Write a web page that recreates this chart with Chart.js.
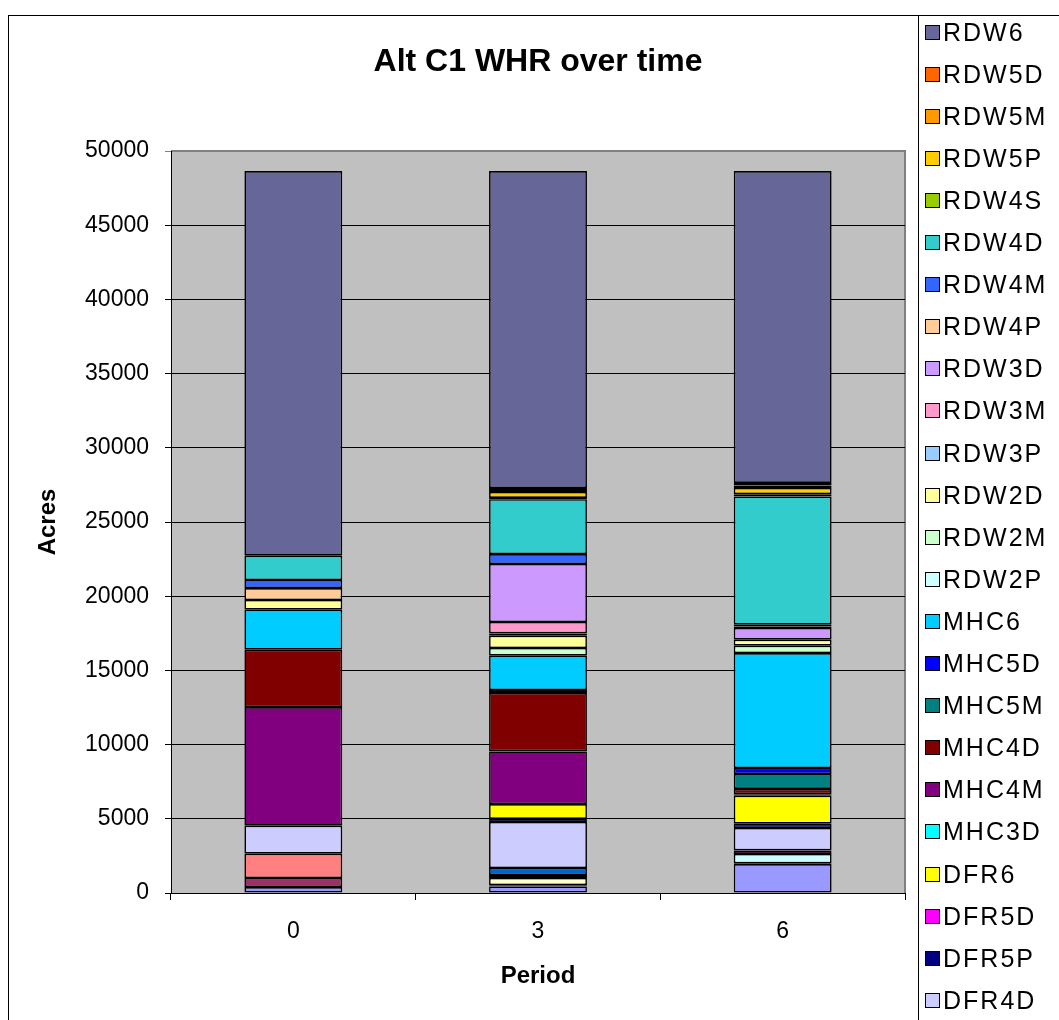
<!DOCTYPE html>
<html>
<head>
<meta charset="utf-8">
<script src="https://cdn.jsdelivr.net/npm/chart.js@4.4.1/dist/chart.umd.min.js"></script>
<style>
  html, body { margin: 0; padding: 0; background: #fff; }
  #wrap { position: relative; width: 1059px; height: 1020px; overflow: hidden; }
  #frame { position: absolute; left: 8px; top: 15px; width: 1200px; height: 1200px;
           border-left: 1px solid #000; border-top: 1px solid #000; }
  #legend { position: absolute; left: 918px; top: 15px; width: 200px; height: 1200px;
            border-left: 1px solid #000; font-family: 'Liberation Sans', Arial, sans-serif; }
  .item { position: absolute; left: 6px; height: 30px; display: flex; align-items: center;
          font-size: 25px; letter-spacing: 2px; color: #000; white-space: nowrap; }
  .box { width: 13px; height: 13px; border: 1px solid #000; margin-right: 3px; }
  canvas { position: absolute; left: 0; top: 0; }
</style>
</head>
<body>
<div id="wrap">
  <div id="frame"></div>
  <canvas id="myChart" width="1059" height="1020"></canvas>
  <div id="legend"></div>
</div>
<script>
const title = "Alt C1 WHR over time"
const periods = ["0", "3", "6"]

// series listed from the bottom of the stack to the top
const seriesNames = [
    "DFR2P", "DFR2M", "DFR2D", "DFR3M", "DFR3D", "DFR4P", "DFR4M", "DFR4D",
    "DFR5P", "DFR5D", "DFR6", "MHC3D", "MHC4M", "MHC4D", "MHC5M", "MHC5D",
    "MHC6", "RDW2P", "RDW2M", "RDW2D", "RDW3P", "RDW3M", "RDW3D", "RDW4P",
    "RDW4M", "RDW4D", "RDW4S", "RDW5P", "RDW5M", "RDW5D", "RDW6"
]
const seriesColors = [
    "#9999FF", "#993366", "#FFFFCC", "#CCFFFF", "#660066", "#FF8080", "#0066CC", "#CCCCFF",
    "#000080", "#FF00FF", "#FFFF00", "#00FFFF", "#800080", "#800000", "#008080", "#0000FF",
    "#00CCFF", "#CCFFFF", "#CCFFCC", "#FFFF99", "#99CCFF", "#FF99CC", "#CC99FF", "#FFCC99",
    "#3366FF", "#33CCCC", "#99CC00", "#FFCC00", "#FF9900", "#FF6600", "#666699"
]

// acres per series, same order as seriesNames
const period0 = [400, 610, 0, 0, 0, 1640, 0, 1885, 0, 0, 0, 0, 7995, 3865, 0, 0,
                 2695, 0, 0, 655, 0, 0, 0, 805, 540, 1640, 0, 0, 0, 0, 25920]
const period3 = [445, 80, 485, 0, 200, 0, 475, 3100, 220, 0, 990, 0, 3545, 3940, 0, 200,
                 2310, 0, 520, 830, 150, 770, 3910, 0, 670, 3700, 80, 400, 130, 140, 21360]
const period6 = [1950, 50, 0, 630, 240, 0, 0, 1510, 290, 0, 1890, 0, 100, 350, 1010, 400,
                 7750, 0, 495, 405, 0, 0, 790, 100, 120, 8645, 150, 415, 170, 170, 21020]

const font = "'Liberation Sans', Arial, sans-serif"

let datasets = []
for (let i = 0; i < seriesNames.length; i++) {
    datasets.push({
        label: seriesNames[i],
        data: [period0[i], period3[i], period6[i]].map(v => v || null),
        backgroundColor: seriesColors[i],
        borderColor: "#000",
        borderWidth: 1.6,
        borderSkipped: false,
        barPercentage: 0.4,
        categoryPercentage: 1
    })
}

const plotBackground = {
    id: "plotBackground",
    beforeDraw(chart) {
        const {ctx, chartArea: a} = chart
        ctx.save()
        ctx.fillStyle = "#C0C0C0"
        ctx.fillRect(a.left, a.top, a.right - a.left, a.bottom - a.top)
        ctx.strokeStyle = "#808080"
        ctx.lineWidth = 2
        ctx.beginPath()
        ctx.moveTo(a.left, a.top)
        ctx.lineTo(a.right, a.top)
        ctx.lineTo(a.right, a.bottom)
        ctx.stroke()
        ctx.restore()
    },
    afterDraw(chart) {
        const {ctx, chartArea: a} = chart
        ctx.save()
        ctx.fillStyle = "#000"
        ctx.font = "bold 32px " + font
        ctx.textAlign = "center"
        ctx.textBaseline = "middle"
        ctx.fillText(title, (a.left + a.right) / 2, 62)
        ctx.restore()
    }
}

const ctx = document.getElementById("myChart").getContext("2d")
const chart = new Chart(ctx, {
    type: "bar",
    data: { labels: periods, datasets: datasets },
    plugins: [plotBackground],
    options: {
        responsive: false,
        animation: false,
        layout: { padding: { top: 151, left: 10, right: 154, bottom: 0 } },
        plugins: {
            legend: { display: false },
            title: { display: false },
            tooltip: { enabled: false }
        },
        scales: {
            x: {
                stacked: true,
                afterFit: s => { s.height = 127 },
                grid: { offset: true, drawOnChartArea: false, color: "#000", tickLength: 7 },
                border: { color: "#000", width: 1 },
                ticks: { color: "#000", padding: 18, font: { family: font, size: 23 } },
                title: { display: true, text: "Period", color: "#000",
                         font: { family: font, size: 24, weight: "bold" }, padding: { bottom: 29 } }
            },
            y: {
                stacked: true,
                min: 0,
                max: 50000,
                afterFit: s => { s.width = 161 },
                grid: { color: c => c.tick && c.tick.value === 50000 ? "#808080" : "#000", tickLength: 6 },
                border: { color: "#000", width: 1 },
                ticks: { stepSize: 5000, color: "#000", padding: 16, callback: v => String(v),
                         font: { family: font, size: 23 } },
                title: { display: true, text: "Acres", color: "#000",
                         font: { family: font, size: 24, weight: "bold" }, padding: { top: 24 } }
            }
        }
    }
})

// legend, top of the stack first
const legend = document.getElementById("legend")
const items = chart.data.datasets.slice().reverse()
items.forEach((d, i) => {
    const row = document.createElement("div")
    row.className = "item"
    row.style.top = (32 - 15 - 15 + i * 42.1) + "px"
    const box = document.createElement("span")
    box.className = "box"
    box.style.background = d.backgroundColor
    row.appendChild(box)
    row.appendChild(document.createTextNode(d.label))
    legend.appendChild(row)
})
</script>
</body>
</html>
